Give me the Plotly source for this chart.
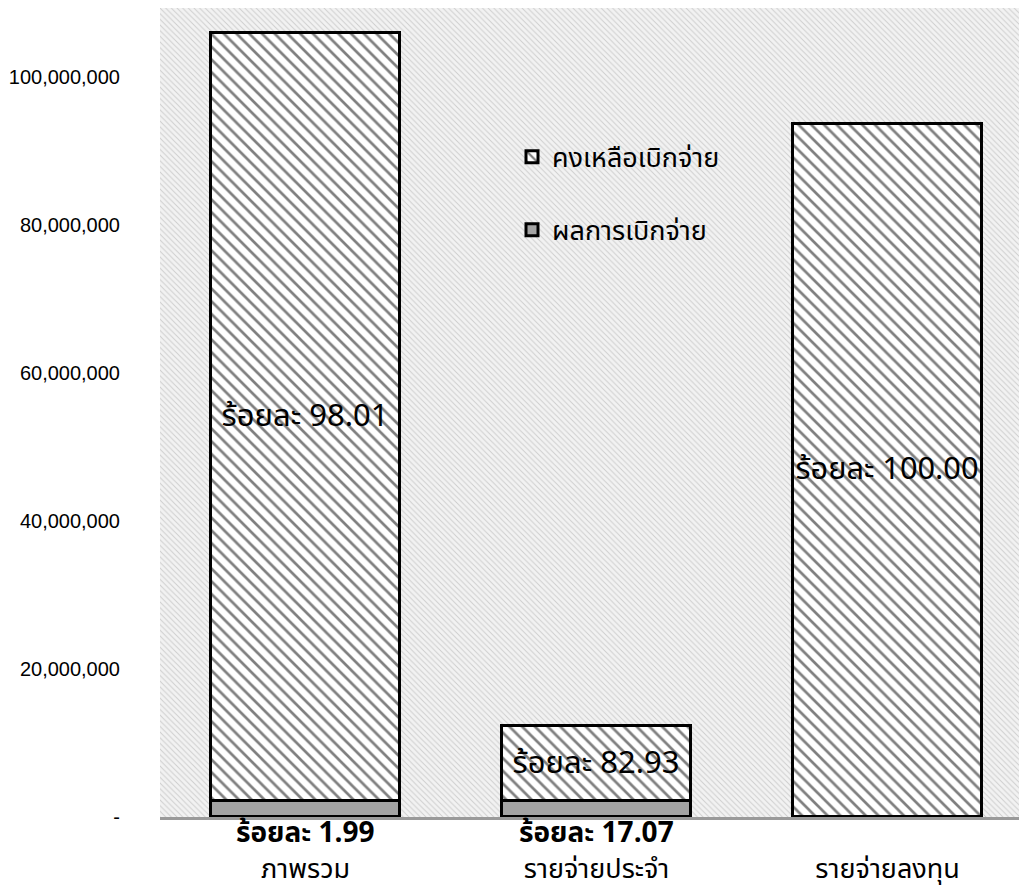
import plotly.graph_objects as go

categories = ["ภาพรวม", "รายจ่ายประจำ", "รายจ่ายลงทุน"]
disbursed = [2110000, 2110000, 0]
remaining = [103850000, 10250000, 93600000]
pct_remaining = ["ร้อยละ 98.01", "ร้อยละ 82.93", "ร้อยละ 100.00"]
pct_disbursed = ["ร้อยละ 1.99", "ร้อยละ 17.07", ""]
series_names = ["ผลการเบิกจ่าย", "คงเหลือเบิกจ่าย"]
y_tickvals = [0, 20000000, 40000000, 60000000, 80000000, 100000000]
y_ticktext = ["-", "20,000,000", "40,000,000", "60,000,000", "80,000,000", "100,000,000"]

Y_MAX = 109300000
THAI = "Noto Sans Thai, Leelawadee UI, Tahoma, Noto Sans, sans-serif"

fig = go.Figure()

# textured plot background
fig.add_trace(go.Bar(
    x=categories, y=[Y_MAX] * len(categories), width=1.0,
    marker=dict(color="white", line=dict(width=0),
                pattern=dict(shape="\\", fgcolor="#aaaaaa", bgcolor="#f2f2f2",
                             size=4, solidity=0.25)),
    showlegend=False, hoverinfo="skip",
))

fig.add_trace(go.Bar(
    x=categories, y=disbursed, base=[0] * len(categories), width=0.65,
    name=series_names[0], legendgroup="a", legendrank=2,
    marker=dict(color="#a3a3a3", line=dict(color="black", width=3)),
))

fig.add_trace(go.Bar(
    x=categories, y=remaining, base=disbursed, width=0.65,
    name=series_names[1], legendgroup="b", legendrank=1,
    text=pct_remaining, textposition="inside", insidetextanchor="middle",
    textangle=0, textfont=dict(family=THAI, size=31, color="black"),
    marker=dict(color="white", line=dict(color="black", width=3),
                pattern=dict(shape="\\", fgcolor="black", bgcolor="white",
                             size=9, solidity=0.3)),
))

for c, t in zip(categories, pct_disbursed):
    if t:
        fig.add_annotation(x=c, y=0, xref="x", yref="y", text="<b>" + t + "</b>",
                           showarrow=False, yanchor="top", yshift=7,
                           font=dict(family=THAI, size=28, color="black"))

fig.update_layout(
    width=1019, height=882,
    margin=dict(l=152, r=0, t=0, b=73, autoexpand=False),
    barmode="overlay",
    bargap=0,
    paper_bgcolor="white", plot_bgcolor="white",
    showlegend=True,
    legend=dict(x=0.406, y=0.846, xanchor="left", yanchor="top",
                bgcolor="rgba(0,0,0,0)", traceorder="grouped", tracegroupgap=35,
                font=dict(family=THAI, size=27, color="black")),
    xaxis=dict(range=[-0.5, 2.479], showgrid=False, zeroline=False, automargin=False,
               showline=True, linecolor="#9a9a9a", linewidth=3,
               ticks="", ticklabelstandoff=26,
               tickfont=dict(family=THAI, size=27, color="black")),
    yaxis=dict(range=[0, Y_MAX], showgrid=False, zeroline=False, showline=False,
               automargin=False,
               tickvals=y_tickvals, ticktext=y_ticktext, ticks="",
               ticklabelstandoff=39,
               tickfont=dict(family="Liberation Sans, Arial, sans-serif", size=20, color="black")),
)

fig.write_html("out.html")
